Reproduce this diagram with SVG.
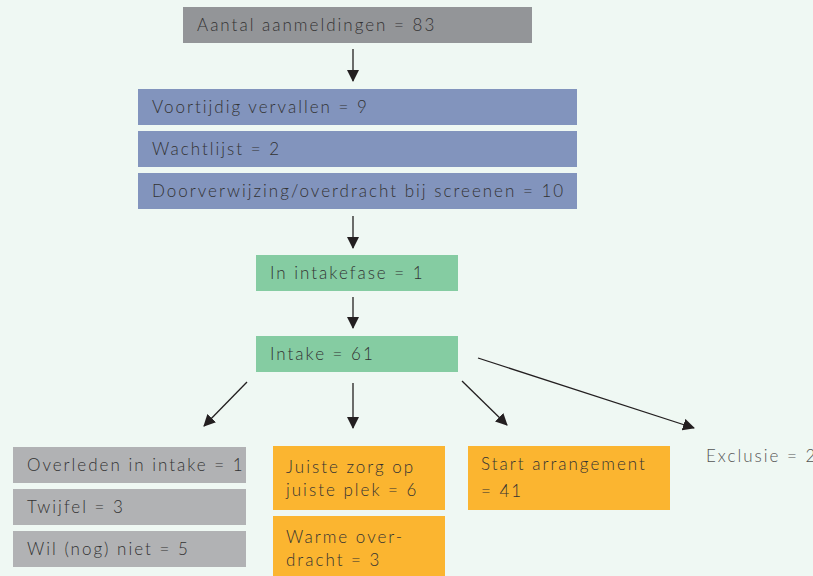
<svg xmlns="http://www.w3.org/2000/svg" width="813" height="576" viewBox="0 0 813 576">
<defs>
<marker id="ah" viewBox="0 0 12 12" refX="11" refY="6" markerWidth="12" markerHeight="12" markerUnits="userSpaceOnUse" orient="auto">
<path d="M0,0 L12,6 L0,12 Z" fill="#231f20"/>
</marker>
<style>
text{font-family:"Lato","Noto Sans",sans-serif;font-size:17px;font-weight:300;fill:#333333;letter-spacing:2px}
.ex{fill:#555555}
.c{stroke:#231f20;stroke-width:1.3;fill:none;marker-end:url(#ah)}
.gray{fill:#939598}.blue{fill:#8294bd}.green{fill:#85cca2}.lg{fill:#b1b2b4}.or{fill:#fbb530}
</style>
</defs>
<rect width="813" height="576" fill="#eff8f3"/>
<g id="n-aanmeldingen"><rect class="gray" x="183" y="7" width="349" height="36"/><text x="197" y="31">Aantal aanmeldingen = 83</text></g>
<g id="n-vervallen"><rect class="blue" x="138" y="89" width="439" height="36"/><text x="152" y="113">Voortijdig vervallen = 9</text></g>
<g id="n-wachtlijst"><rect class="blue" x="138" y="131" width="439" height="36"/><text x="152" y="155">Wachtlijst = 2</text></g>
<g id="n-doorverwijzing"><rect class="blue" x="138" y="173" width="439" height="36"/><text x="152" y="197">Doorverwijzing/overdracht bij screenen = 10</text></g>
<g id="n-intakefase"><rect class="green" x="256" y="255" width="202" height="36"/><text x="270" y="279">In intakefase = 1</text></g>
<g id="n-intake"><rect class="green" x="256" y="336" width="202" height="36"/><text x="270" y="360">Intake = 61</text></g>
<g id="n-overleden"><rect class="lg" x="13" y="447" width="233" height="36"/><text x="27" y="471">Overleden in intake = 1</text></g>
<g id="n-twijfel"><rect class="lg" x="13" y="489" width="233" height="36"/><text x="27" y="513">Twijfel = 3</text></g>
<g id="n-wil"><rect class="lg" x="13" y="531" width="233" height="36"/><text x="27" y="555">Wil (nog) niet = 5</text></g>
<g id="n-juiste"><rect class="or" x="273" y="446" width="172" height="64"/><text x="286" y="473">Juiste zorg op</text><text x="286" y="496">juiste plek = 6</text></g>
<g id="n-warme"><rect class="or" x="273" y="516" width="172" height="60"/><text x="286" y="543">Warme over-</text><text x="286" y="566">dracht = 3</text></g>
<g id="n-start"><rect class="or" x="468" y="446" width="202" height="64"/><text x="481" y="470">Start arrangement</text><text x="481" y="497">= 41</text></g>
<g id="n-exclusie"><text class="ex" x="706" y="462">Exclusie = 2</text></g>
<g id="connectors">
<line class="c" x1="353" y1="49" x2="353" y2="81"/>
<line class="c" x1="353" y1="216" x2="353" y2="248"/>
<line class="c" x1="353" y1="297" x2="353" y2="328"/>
<line class="c" x1="247" y1="382" x2="204" y2="426"/>
<line class="c" x1="353" y1="383" x2="353" y2="428"/>
<line class="c" x1="462" y1="381" x2="507" y2="425"/>
<line class="c" x1="478" y1="358" x2="694" y2="428"/>
</g>
</svg>
